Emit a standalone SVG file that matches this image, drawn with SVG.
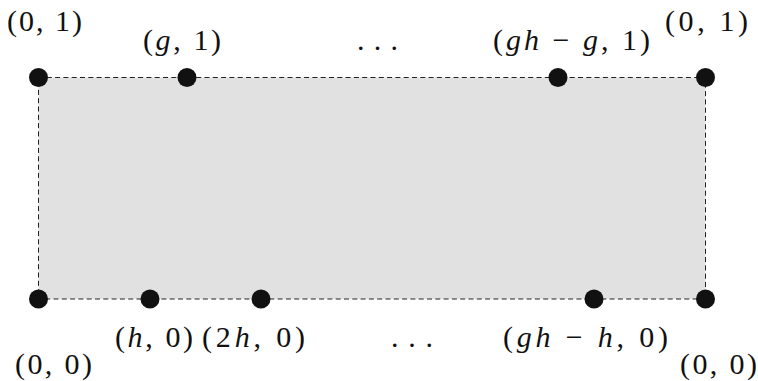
<svg xmlns="http://www.w3.org/2000/svg" width="758" height="381" viewBox="0 0 758 381">
<style>
.lbl{font-family:"Liberation Serif","DejaVu Serif",serif;font-size:30px;fill:#111}
.v{font-style:italic}
.pt{fill:#111}
</style>
<rect width="758" height="381" fill="#fff"/>
<g id="connectors">
<rect x="38.5" y="77.5" width="667" height="221.5" fill="#e1e1e1" stroke="#222" stroke-width="1" stroke-dasharray="5 3.3"/>
</g>
<g id="n-top0"><circle class="pt" cx="38.5" cy="77.5" r="9.5"/><text class="lbl" x="7" y="31" textLength="75" lengthAdjust="spacing">(0, 1)</text></g>
<g id="n-topg"><circle class="pt" cx="187" cy="77.5" r="9.5"/><text class="lbl" x="143" y="50" textLength="78" lengthAdjust="spacing">(<tspan class="v">g</tspan>, 1)</text></g>
<g id="n-topdots"><text class="lbl" x="357" y="50" textLength="41" lengthAdjust="spacing">. . .</text></g>
<g id="n-topgh"><circle class="pt" cx="558" cy="77.5" r="9.5"/><text class="lbl" x="493" y="50" textLength="157" lengthAdjust="spacing">(<tspan class="v">gh</tspan> − <tspan class="v">g</tspan>, 1)</text></g>
<g id="n-topend"><circle class="pt" cx="705.5" cy="77.5" r="9.5"/><text class="lbl" x="665" y="31" textLength="83" lengthAdjust="spacing">(0, 1)</text></g>
<g id="n-bot0"><circle class="pt" cx="38.5" cy="299" r="9.5"/><text class="lbl" x="15" y="374" textLength="77" lengthAdjust="spacing">(0, 0)</text></g>
<g id="n-both"><circle class="pt" cx="150" cy="299" r="9.5"/><text class="lbl" x="115" y="347" textLength="78" lengthAdjust="spacing">(<tspan class="v">h</tspan>, 0)</text></g>
<g id="n-bot2h"><circle class="pt" cx="261" cy="299" r="9.5"/><text class="lbl" x="202" y="347" textLength="103" lengthAdjust="spacing">(2<tspan class="v">h</tspan>, 0)</text></g>
<g id="n-botdots"><text class="lbl" x="391" y="347" textLength="42" lengthAdjust="spacing">. . .</text></g>
<g id="n-botgh"><circle class="pt" cx="594" cy="299" r="9.5"/><text class="lbl" x="503" y="347" textLength="165" lengthAdjust="spacing">(<tspan class="v">gh</tspan> − <tspan class="v">h</tspan>, 0)</text></g>
<g id="n-botend"><circle class="pt" cx="705.5" cy="299" r="9.5"/><text class="lbl" x="680" y="374" textLength="77" lengthAdjust="spacing">(0, 0)</text></g>
</svg>
